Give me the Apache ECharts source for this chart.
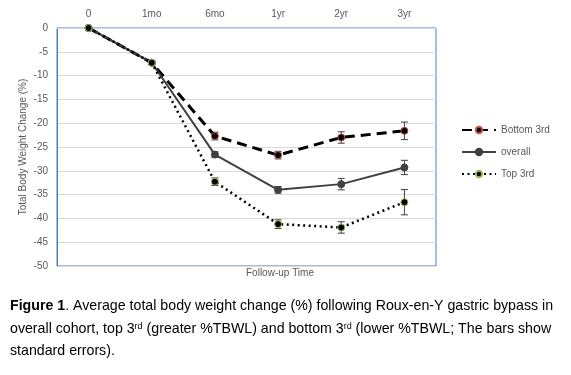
<!DOCTYPE html>
<html>
<head>
<meta charset="utf-8">
<script src="https://cdn.jsdelivr.net/npm/echarts@6/dist/echarts.min.js"></script>
<style>
  html, body { margin: 0; padding: 0; background: #fff; }
  #chart { width: 571px; height: 375px; }
</style>
</head>
<body>
<div id="chart"></div>
<script>
// 数据
var timePoints = ['0', '1mo', '6mo', '1yr', '2yr', '3yr'];
var bottomThird = [0, -7.3, -22.7, -26.7, -23.0, -21.6];
var overall = [0, -7.3, -26.6, -34.0, -32.8, -29.3];
var topThird = [0, -7.3, -32.3, -41.2, -41.9, -36.6];
// 标准误
var bottomErr = [0, 0.4, 0.8, 0.8, 1.2, 1.85];
var overallErr = [0, 0.4, 0.6, 0.7, 1.2, 1.5];
var topErr = [0, 0.4, 0.8, 0.9, 1.2, 2.65];

var textFont = 'Liberation Sans';
var gray = '#595959';

function errData(vals, errs) {
    var out = [];
    for (var i = 0; i < vals.length; i++) {
        out.push([i, vals[i], errs[i]]);
    }
    return out;
}

// 误差线
function renderErr(params, api) {
    var x = api.value(0), v = api.value(1), e = api.value(2);
    if (!e) return;
    var hi = api.coord([x, v + e]);
    var lo = api.coord([x, v - e]);
    var cap = 3.5;
    var st = { stroke: '#404040', lineWidth: 1 };
    return {
        type: 'group',
        children: [
            { type: 'line', shape: { x1: hi[0], y1: hi[1], x2: lo[0], y2: lo[1] }, style: st },
            { type: 'line', shape: { x1: hi[0] - cap, y1: hi[1], x2: hi[0] + cap, y2: hi[1] }, style: st },
            { type: 'line', shape: { x1: lo[0] - cap, y1: lo[1], x2: lo[0] + cap, y2: lo[1] }, style: st }
        ]
    };
}

var chart = echarts.init(document.getElementById('chart'));
var option = {
    animation: false,
    textStyle: { fontFamily: textFont },
    grid: {
        left: 57, right: 135, top: 28, bottom: 109,
        show: true, borderColor: '#4a7ebb', borderWidth: 1
    },
    legend: {
        data: ['Bottom 3rd', 'overall', 'Top 3rd'],
        orient: 'vertical',
        left: 456, top: 120,
        itemWidth: 34, itemHeight: 8, itemGap: 12,
        textStyle: { color: gray, fontSize: 10, fontFamily: textFont }
    },
    xAxis: {
        type: 'category',
        position: 'top',
        data: timePoints,
        boundaryGap: true,
        axisLine: { show: true, lineStyle: { color: '#d9d9d9' } },
        axisTick: { show: false },
        axisLabel: { color: gray, fontSize: 10, margin: 9 }
    },
    yAxis: {
        type: 'value',
        min: -50, max: 0, interval: 5,
        name: 'Total Body Weight Change (%)',
        nameLocation: 'middle',
        nameRotate: 90,
        nameGap: 29,
        nameMoveOverlap: false,
        nameTextStyle: { color: gray, fontSize: 10 },
        axisLine: { show: true, lineStyle: { color: '#4a7ebb' } },
        axisTick: { show: false },
        axisLabel: { color: gray, fontSize: 10, margin: 9 },
        splitLine: { lineStyle: { color: '#d9d9d9' } }
    },
    series: [
        {
            name: 'Bottom 3rd', type: 'line', data: bottomThird,
            symbol: 'circle', symbolSize: 7,
            lineStyle: { color: '#000', width: 3, type: [10, 6] },
            itemStyle: { color: '#000', borderColor: '#c0504d', borderWidth: 1 }
        },
        {
            name: 'overall', type: 'line', data: overall,
            symbol: 'circle', symbolSize: 7,
            lineStyle: { color: '#404040', width: 2 },
            itemStyle: { color: '#404040', borderColor: '#404040', borderWidth: 1 }
        },
        {
            name: 'Top 3rd', type: 'line', data: topThird,
            symbol: 'circle', symbolSize: 7,
            lineStyle: { color: '#000', width: 2.5, type: [2, 3.5] },
            itemStyle: { color: '#000', borderColor: '#9bbb59', borderWidth: 1 }
        },
        { type: 'custom', name: 'errB', data: errData(bottomThird, bottomErr), renderItem: renderErr, z: 3 },
        { type: 'custom', name: 'errO', data: errData(overall, overallErr), renderItem: renderErr, z: 3 },
        { type: 'custom', name: 'errT', data: errData(topThird, topErr), renderItem: renderErr, z: 3 }
    ],
    graphic: [
        {
            type: 'text', left: 246, top: 268,
            style: { text: 'Follow-up Time', fill: gray, fontSize: 10, fontFamily: textFont, align: 'center' }
        },
        {
            type: 'text', left: 10, top: 299,
            style: {
                text: '{b|Figure 1}. Average total body weight change (%) following Roux-en-Y gastric bypass in',
                fill: '#000', fontSize: 14.2, fontFamily: textFont,
                rich: { b: { fontWeight: 'bold', fontSize: 14.2, fontFamily: textFont } }
            }
        },
        {
            type: 'text', left: 10, top: 322,
            style: {
                text: 'overall cohort, top 3{s|rd} (greater %TBWL) and bottom 3{s|rd} (lower %TBWL; The bars show',
                fill: '#000', fontSize: 14.2, fontFamily: textFont,
                rich: { s: { fontSize: 9, verticalAlign: 'top', fontFamily: textFont } }
            }
        },
        {
            type: 'text', left: 10, top: 344,
            style: { text: 'standard errors).', fill: '#000', fontSize: 14.2, fontFamily: textFont }
        }
    ]
};
chart.setOption(option);
</script>
</body>
</html>
